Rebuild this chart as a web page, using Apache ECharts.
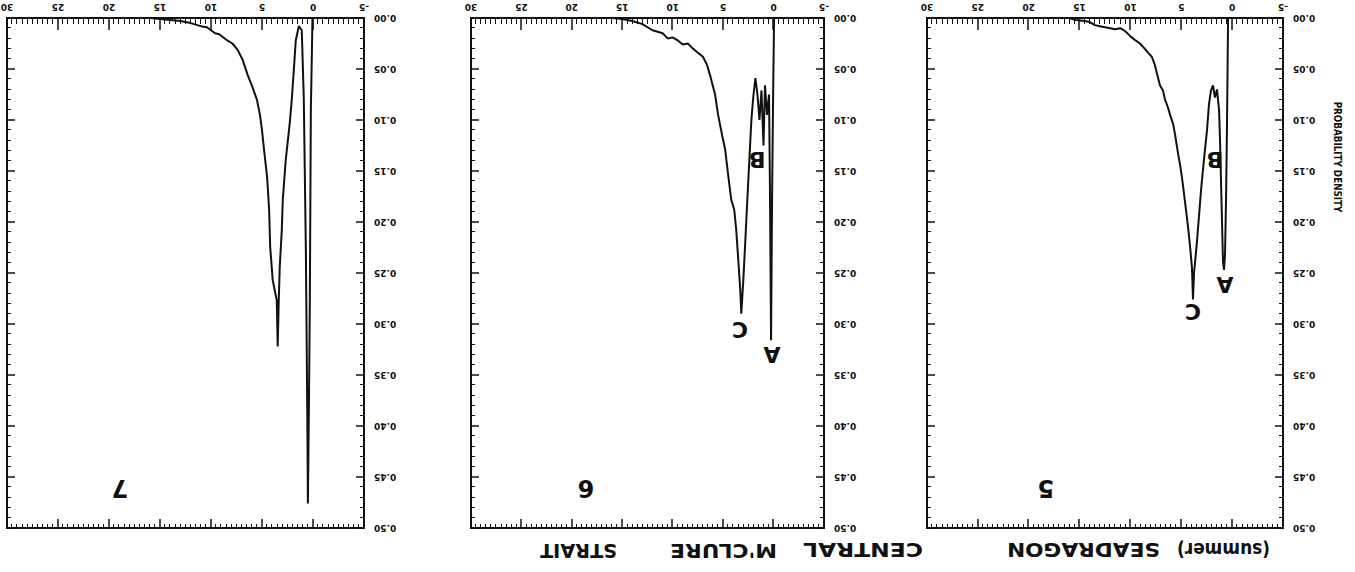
<!DOCTYPE html>
<html>
<head>
<meta charset="utf-8">
<script src="https://cdn.jsdelivr.net/npm/echarts@6/dist/echarts.min.js"></script>
<style>
  html, body { margin: 0; padding: 0; background: #fff; overflow: hidden; }
  /* the scanned figure is printed upside down */
  #chart { width: 1355px; height: 572px; transform: rotate(180deg); }
</style>
</head>
<body>
<div id="chart"></div>
<script>
// station 5 (summer SEADRAGON)
const s5x = [16.0, 15.4, 14.5, 14.0, 13.5, 13.0, 12.5, 12.0, 11.5, 11.0, 10.5, 10.0, 9.5, 9.06, 8.6, 8.27, 7.9, 7.6, 7.3, 7.1, 6.8, 6.6, 6.3, 6.1, 5.8, 5.6, 5.3, 5.1, 4.9, 4.6, 4.3, 4.1, 3.95, 3.85, 3.75, 3.65, 3.45, 3.25, 3.06, 2.87, 2.67, 2.47, 2.28, 2.08, 1.88, 1.69, 1.49, 1.29, 1.19, 1.0, 0.9, 0.8, 0.7, 0.6, 0.5, 0.4];
const s5y = [0, 0.002, 0.003, 0.004, 0.007, 0.008, 0.009, 0.010, 0.011, 0.010, 0.013, 0.018, 0.022, 0.025, 0.030, 0.034, 0.038, 0.046, 0.058, 0.066, 0.071, 0.080, 0.088, 0.095, 0.104, 0.115, 0.134, 0.145, 0.159, 0.183, 0.208, 0.228, 0.245, 0.276, 0.250, 0.240, 0.218, 0.193, 0.169, 0.149, 0.129, 0.110, 0.085, 0.071, 0.066, 0.078, 0.070, 0.090, 0.120, 0.198, 0.239, 0.247, 0.232, 0.178, 0.100, 0];

// station 6 (central M'Clure Strait)
const s6x = [16.0, 15.0, 14.0, 13.0, 12.0, 11.0, 10.5, 10.0, 9.5, 9.0, 8.5, 8.0, 7.5, 7.0, 6.6, 6.3, 5.8, 5.5, 5.1, 4.8, 4.5, 4.2, 3.9, 3.7, 3.5, 3.3, 3.2, 3.0, 2.8, 2.6, 2.4, 2.2, 2.0, 1.8, 1.6, 1.4, 1.2, 1.0, 0.85, 0.65, 0.45, 0.35, 0.25, 0.15, 0.05, -0.05];
const s6y = [0, 0.001, 0.003, 0.006, 0.012, 0.015, 0.020, 0.019, 0.022, 0.026, 0.025, 0.030, 0.034, 0.038, 0.046, 0.056, 0.075, 0.095, 0.115, 0.129, 0.154, 0.178, 0.188, 0.208, 0.237, 0.267, 0.290, 0.257, 0.218, 0.178, 0.139, 0.100, 0.076, 0.059, 0.075, 0.100, 0.071, 0.125, 0.066, 0.095, 0.075, 0.178, 0.316, 0.178, 0.080, 0];

// station 7 (central M'Clure Strait)
const s7x = [16.0, 15.0, 14.0, 13.0, 12.0, 11.0, 10.4, 9.6, 9.2, 8.4, 7.9, 7.4, 6.9, 6.4, 6.0, 5.5, 5.2, 5.0, 4.8, 4.5, 4.3, 4.2, 3.95, 3.55, 3.46, 3.36, 3.26, 3.06, 2.96, 2.67, 2.28, 2.08, 1.88, 1.69, 1.39, 1.10, 0.90, 0.70, 0.55, 0.50, 0.40, 0.31, 0.21, 0.05];
const s7y = [0, 0.001, 0.002, 0.003, 0.005, 0.008, 0.009, 0.015, 0.016, 0.022, 0.025, 0.031, 0.041, 0.056, 0.066, 0.080, 0.095, 0.110, 0.129, 0.156, 0.188, 0.224, 0.257, 0.277, 0.322, 0.278, 0.244, 0.208, 0.178, 0.139, 0.103, 0.080, 0.051, 0.022, 0.008, 0.012, 0.080, 0.227, 0.400, 0.476, 0.380, 0.276, 0.090, 0];

const panelNames = ['5', '6', '7'];
// peak letters: [letter, x, density]
const peaks5 = [['C', 3.85, 0.288], ['B', 1.69, 0.139], ['A', 0.70, 0.261]];
const peaks6 = [['C', 3.33, 0.305], ['B', 1.64, 0.139], ['A', 0.15, 0.330]];
const peaks7 = [];

const xMin = -5, xMax = 30, xStep = 5;
const yMin = 0, yMax = 0.5, yStep = 0.05;

const ink = '#111';
const grids = [
  { left: 72, top: 44, width: 356, height: 510 },
  { left: 531, top: 44, width: 353, height: 510 },
  { left: 991, top: 44, width: 357, height: 510 }
];

const ctx = document.createElement('canvas').getContext('2d');
function fit(text, font, w) {
  ctx.font = font;
  return w / ctx.measureText(text).width;
}

const xAxis = [], yAxis = [], series = [];
const curves = [[s5x, s5y, peaks5], [s6x, s6y, peaks6], [s7x, s7y, peaks7]];

grids.forEach((g, i) => {
  const line = { onZero: false, lineStyle: { color: ink, width: 2 } };
  xAxis.push({
    type: 'value', gridIndex: i, position: 'bottom', min: xMin, max: xMax, interval: xStep,
    axisLine: line,
    axisTick: { inside: true, length: 12, lineStyle: { color: ink, width: 1.5 } },
    minorTick: { show: true, splitNumber: 10, length: 6, lineStyle: { color: ink, width: 1 } },
    axisLabel: { color: ink, fontSize: 9, fontWeight: 'bold', fontFamily: 'DejaVu Sans', margin: 7 },
    splitLine: { show: false }
  });
  xAxis.push({
    type: 'value', gridIndex: i, position: 'top', min: xMin, max: xMax, interval: xStep,
    axisLine: line,
    axisTick: { inside: true, length: 9, lineStyle: { color: ink, width: 1.5 } },
    minorTick: { show: true, splitNumber: 10, length: 4, lineStyle: { color: ink, width: 1 } },
    axisLabel: { show: false },
    splitLine: { show: false }
  });
  yAxis.push({
    type: 'value', gridIndex: i, position: 'left', min: yMin, max: yMax, interval: yStep,
    axisLine: line,
    axisTick: { inside: true, length: 8, lineStyle: { color: ink, width: 1.5 } },
    minorTick: { show: true, splitNumber: 5, length: 4, lineStyle: { color: ink, width: 1 } },
    axisLabel: { color: ink, fontSize: 9, fontWeight: 'bold', fontFamily: 'DejaVu Sans', margin: 10,
      formatter: v => v.toFixed(2) },
    splitLine: { show: false }
  });
  yAxis.push({
    type: 'value', gridIndex: i, position: 'right', min: yMin, max: yMax, interval: yStep,
    axisLine: line,
    axisTick: { inside: true, length: 8, lineStyle: { color: ink, width: 1.5 } },
    minorTick: { show: true, splitNumber: 5, length: 4, lineStyle: { color: ink, width: 1 } },
    axisLabel: { show: false },
    splitLine: { show: false }
  });

  const [xs, ys, peaks] = curves[i];
  series.push({
    type: 'line', xAxisIndex: 2 * i, yAxisIndex: 2 * i,
    data: xs.map((x, k) => [x, ys[k]]),
    showSymbol: false, silent: true,
    lineStyle: { color: ink, width: 2 },
    markPoint: {
      symbol: 'circle', symbolSize: 1, silent: true,
      itemStyle: { color: 'rgba(0,0,0,0)' },
      label: { show: true, position: 'inside', formatter: '{b}', color: ink,
        fontSize: 22, fontWeight: 'bold', fontFamily: 'DejaVu Sans' },
      data: peaks.map(p => ({ name: p[0], coord: [p[1], p[2]] }))
    }
  });
});

const titleFont = "bold 19px 'DejaVu Sans'";
// [text, left, right] of each title word
const titles = [['(summer)', 85, 178], ['SEADRAGON', 195, 348], ['CENTRAL', 432, 552], ["M'CLURE", 578, 685], ['STRAIT', 738, 815]];
const graphic = titles.map(t => ({
  type: 'text', x: t[1], y: 22, scaleX: fit(t[0], titleFont, t[2] - t[1]),
  style: { text: t[0], font: titleFont, fill: ink, align: 'left', verticalAlign: 'middle',
    textAlign: 'left', textVerticalAlign: 'middle' }
}));

const numX = [309, 769, 1235];
panelNames.forEach((n, i) => {
  graphic.push({
    type: 'text', x: numX[i], y: 84,
    style: { text: n, font: "bold 24px 'DejaVu Sans'", fill: ink, align: 'center', verticalAlign: 'middle',
      textAlign: 'center', textVerticalAlign: 'middle' }
  });
});

const yName = 'PROBABILITY DENSITY';
const yNameFont = "bold 10px 'DejaVu Sans'";
graphic.push({
  type: 'text', x: 17, y: 415, rotation: Math.PI / 2, scaleX: fit(yName, yNameFont, 111),
  style: { text: yName, font: yNameFont, fill: ink, align: 'center', verticalAlign: 'middle',
    textAlign: 'center', textVerticalAlign: 'middle' }
});

const chart = echarts.init(document.getElementById('chart'), null, { renderer: 'svg' });
chart.setOption({
  animation: false,
  backgroundColor: '#fff',
  grid: grids.map(g => Object.assign({ containLabel: false, outerBoundsMode: 'none' }, g)),
  xAxis, yAxis, series, graphic
});
</script>
</body>
</html>
